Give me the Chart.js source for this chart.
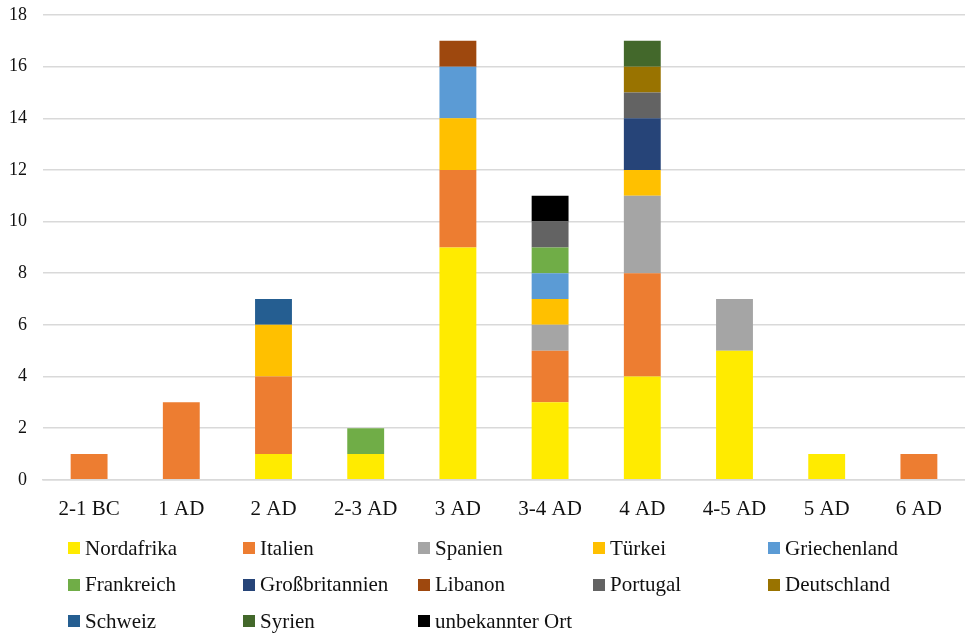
<!DOCTYPE html>
<html>
<head>
<meta charset="utf-8">
<script src="https://cdn.jsdelivr.net/npm/chart.js@4.4.0/dist/chart.umd.min.js"></script>
<style>
  html, body { margin: 0; padding: 0; background: #fff; }
  #wrap { position: relative; width: 965px; height: 635px; font-family: "Liberation Serif", "DejaVu Serif", serif; }
  #chartBox { position: absolute; left: 0; top: 0; width: 965px; height: 539px; }
  #legend { position: absolute; left: 68px; top: 532px; display: grid; grid-template-columns: repeat(5, 175px); grid-auto-rows: 36.5px; }
  .item { display: flex; align-items: center; font-size: 21px; color: #111; white-space: nowrap; height: 32px; }
  .sw { width: 12px; height: 12px; margin-right: 5px; flex: none; }
</style>
</head>
<body>
<div id="wrap">
  <div id="chartBox"><canvas id="c"></canvas></div>
  <div id="legend"></div>
</div>
<script>
const categories = ["2-1 BC", "1 AD", "2 AD", "2-3 AD", "3 AD", "3-4 AD", "4 AD", "4-5 AD", "5 AD", "6 AD"];
const seriesNames = ["Nordafrika", "Italien", "Spanien", "Türkei", "Griechenland", "Frankreich", "Großbritannien", "Libanon", "Portugal", "Deutschland", "Schweiz", "Syrien", "unbekannter Ort"];
const seriesColors = ["#FFEB00", "#ED7D31", "#A5A5A5", "#FFC000", "#5B9BD5", "#70AD47", "#264478", "#9E480E", "#636363", "#997300", "#255E91", "#43682B", "#000000"];
const nordafrika     = [0, 0, 1, 1, 9, 3, 4, 5, 1, 0];
const italien        = [1, 3, 3, 0, 3, 2, 4, 0, 0, 1];
const spanien        = [0, 0, 0, 0, 0, 1, 3, 2, 0, 0];
const tuerkei        = [0, 0, 2, 0, 2, 1, 1, 0, 0, 0];
const griechenland   = [0, 0, 0, 0, 2, 1, 0, 0, 0, 0];
const frankreich     = [0, 0, 0, 1, 0, 1, 0, 0, 0, 0];
const grossbritannien= [0, 0, 0, 0, 0, 0, 2, 0, 0, 0];
const libanon        = [0, 0, 0, 0, 1, 0, 0, 0, 0, 0];
const portugal       = [0, 0, 0, 0, 0, 1, 1, 0, 0, 0];
const deutschland    = [0, 0, 0, 0, 0, 0, 1, 0, 0, 0];
const schweiz        = [0, 0, 1, 0, 0, 0, 0, 0, 0, 0];
const syrien         = [0, 0, 0, 0, 0, 0, 1, 0, 0, 0];
const unbekannt      = [0, 0, 0, 0, 0, 1, 0, 0, 0, 0];
const yTicks = [0, 2, 4, 6, 8, 10, 12, 14, 16, 18];

const seriesValues = [nordafrika, italien, spanien, tuerkei, griechenland, frankreich, grossbritannien, libanon, portugal, deutschland, schweiz, syrien, unbekannt];

const datasets = seriesNames.map((name, i) => ({
  label: name,
  data: seriesValues[i].map(v => v === 0 ? null : v),
  backgroundColor: seriesColors[i],
  borderWidth: 0,
  categoryPercentage: 1.0,
  barPercentage: 0.4
}));

const FONT = "'Liberation Serif', 'DejaVu Serif', serif";

new Chart(document.getElementById("c"), {
  type: "bar",
  data: { labels: categories, datasets },
  options: {
    responsive: true,
    maintainAspectRatio: false,
    animation: false,
    layout: { padding: { left: 0, right: 0, top: 15, bottom: 0 } },
    plugins: { legend: { display: false }, tooltip: { enabled: false } },
    scales: {
      x: {
        stacked: true,
        grid: { display: false, drawTicks: false },
        border: { display: true, color: "#d9d9d9", width: 1.5 },
        ticks: { color: "#111", font: { family: FONT, size: 21 }, padding: 17, maxRotation: 0 }
      },
      y: {
        stacked: true,
        min: 0, max: 18,
        afterBuildTicks: (axis) => { axis.ticks = yTicks.map(v => ({ value: v })); },
        afterFit: (axis) => { axis.width = 43; axis.paddingTop = 0; axis.paddingBottom = 0; },
        grid: { color: "#d9d9d9", lineWidth: 1.5, drawTicks: false },
        border: { display: false },
        ticks: { color: "#111", font: { family: FONT, size: 18 }, padding: 16 }
      }
    }
  }
});

const legend = document.getElementById("legend");
seriesNames.forEach((name, i) => {
  const d = document.createElement("div");
  d.className = "item";
  const s = document.createElement("span");
  s.className = "sw";
  s.style.background = seriesColors[i];
  const t = document.createElement("span");
  t.textContent = name;
  d.appendChild(s); d.appendChild(t);
  legend.appendChild(d);
});
</script>
</body>
</html>
